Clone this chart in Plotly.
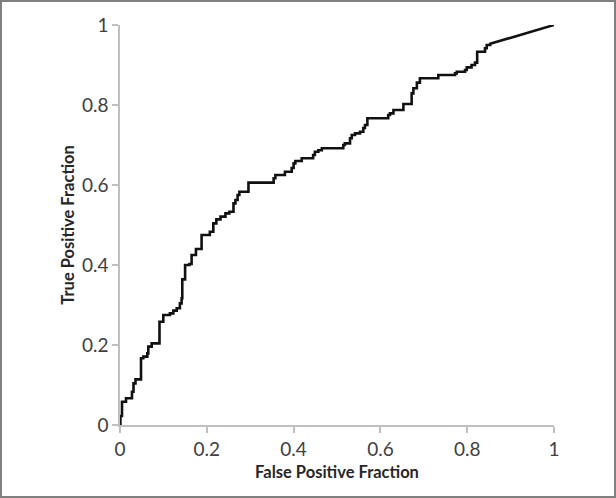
import plotly.graph_objects as go

# ROC staircase: each step = (FPR where the rise happens, TPR after the rise)
fpr_steps = [0.001, 0.0046, 0.0138, 0.0276, 0.0311, 0.0357, 0.0484, 0.0537, 0.0629, 0.0652,
             0.073, 0.091, 0.0998, 0.115, 0.1228, 0.1306, 0.138, 0.142, 0.1435, 0.15,
             0.16, 0.165, 0.175, 0.188, 0.207, 0.215, 0.222, 0.2316, 0.243, 0.252,
             0.2615, 0.266, 0.271, 0.275, 0.296, 0.354, 0.358, 0.38, 0.3956, 0.40,
             0.404, 0.4187, 0.445, 0.449, 0.457, 0.465, 0.5145, 0.518, 0.53, 0.534,
             0.5415, 0.553, 0.5606, 0.5645, 0.570, 0.618, 0.622, 0.63, 0.653, 0.672,
             0.676, 0.684, 0.691, 0.7334, 0.772, 0.776, 0.795, 0.799, 0.81, 0.818,
             0.823, 0.841, 0.845, 0.853]
tpr_steps = [0.0225, 0.058, 0.067, 0.083, 0.104, 0.114, 0.167, 0.171, 0.179, 0.196,
             0.204, 0.258, 0.275, 0.279, 0.286, 0.292, 0.304, 0.317, 0.364, 0.40,
             0.4025, 0.425, 0.44, 0.475, 0.483, 0.504, 0.514, 0.521, 0.529, 0.533,
             0.554, 0.5625, 0.575, 0.583, 0.606, 0.617, 0.625, 0.633, 0.6425, 0.654,
             0.66, 0.667, 0.675, 0.683, 0.687, 0.692, 0.70, 0.704, 0.717, 0.725,
             0.729, 0.733, 0.7425, 0.75, 0.767, 0.775, 0.779, 0.7875, 0.8025, 0.829,
             0.842, 0.856, 0.867, 0.875, 0.879, 0.883, 0.8875, 0.894, 0.90, 0.906,
             0.933, 0.942, 0.95, 0.953]
end_point = (1.0, 1.0)

tick_vals = [0, 0.2, 0.4, 0.6, 0.8, 1]
tick_text = ["0", "0.2", "0.4", "0.6", "0.8", "1"]

# build staircase path (right, then up)
xs, ys = [0.0], [0.0]
for fx, ty in zip(fpr_steps, tpr_steps):
    xs.append(fx); ys.append(ys[-1])
    xs.append(fx); ys.append(ty)
xs.append(end_point[0]); ys.append(end_point[1])

fig = go.Figure()
fig.add_trace(go.Scatter(x=xs, y=ys, mode="lines",
                         line=dict(color="#111111", width=2.6),
                         hoverinfo="skip", showlegend=False))

font_family = "Lato, Open Sans, Arial, sans-serif"
axis_common = dict(range=[0, 1], tickvals=tick_vals, ticktext=tick_text,
                   showgrid=False, zeroline=False, showline=True,
                   linecolor="#bfbfbf", linewidth=1.5,
                   ticks="outside", ticklen=6, tickcolor="#bfbfbf", tickwidth=1.5,
                   tickfont=dict(family=font_family, size=19, color="#404040"),
                   fixedrange=True)

fig.update_layout(
    width=616, height=498,
    margin=dict(l=120, r=62, t=25, b=73, autoexpand=False),
    paper_bgcolor="white", plot_bgcolor="white",
    xaxis=dict(**axis_common,
               title=dict(text="<b>False Positive Fraction</b>", standoff=8,
                          font=dict(family=font_family, size=16.5, color="#262626"))),
    yaxis=dict(**axis_common,
               title=dict(text="<b>True Positive Fraction</b>", standoff=3,
                          font=dict(family=font_family, size=16.5, color="#262626"))),
)

# outer border of the chart area
fig.add_shape(type="rect", xref="paper", yref="paper",
              x0=-119/434, x1=(616 - 121) / 434,
              y0=-(498 - 425 - 1) / 400, y1=1 + 24 / 400,
              line=dict(color="#808080", width=2), fillcolor="rgba(0,0,0,0)", layer="above")

fig.write_html("out.html", config={"displayModeBar": False},
               post_script="document.body.style.margin='0px';document.body.style.overflow='hidden';")
